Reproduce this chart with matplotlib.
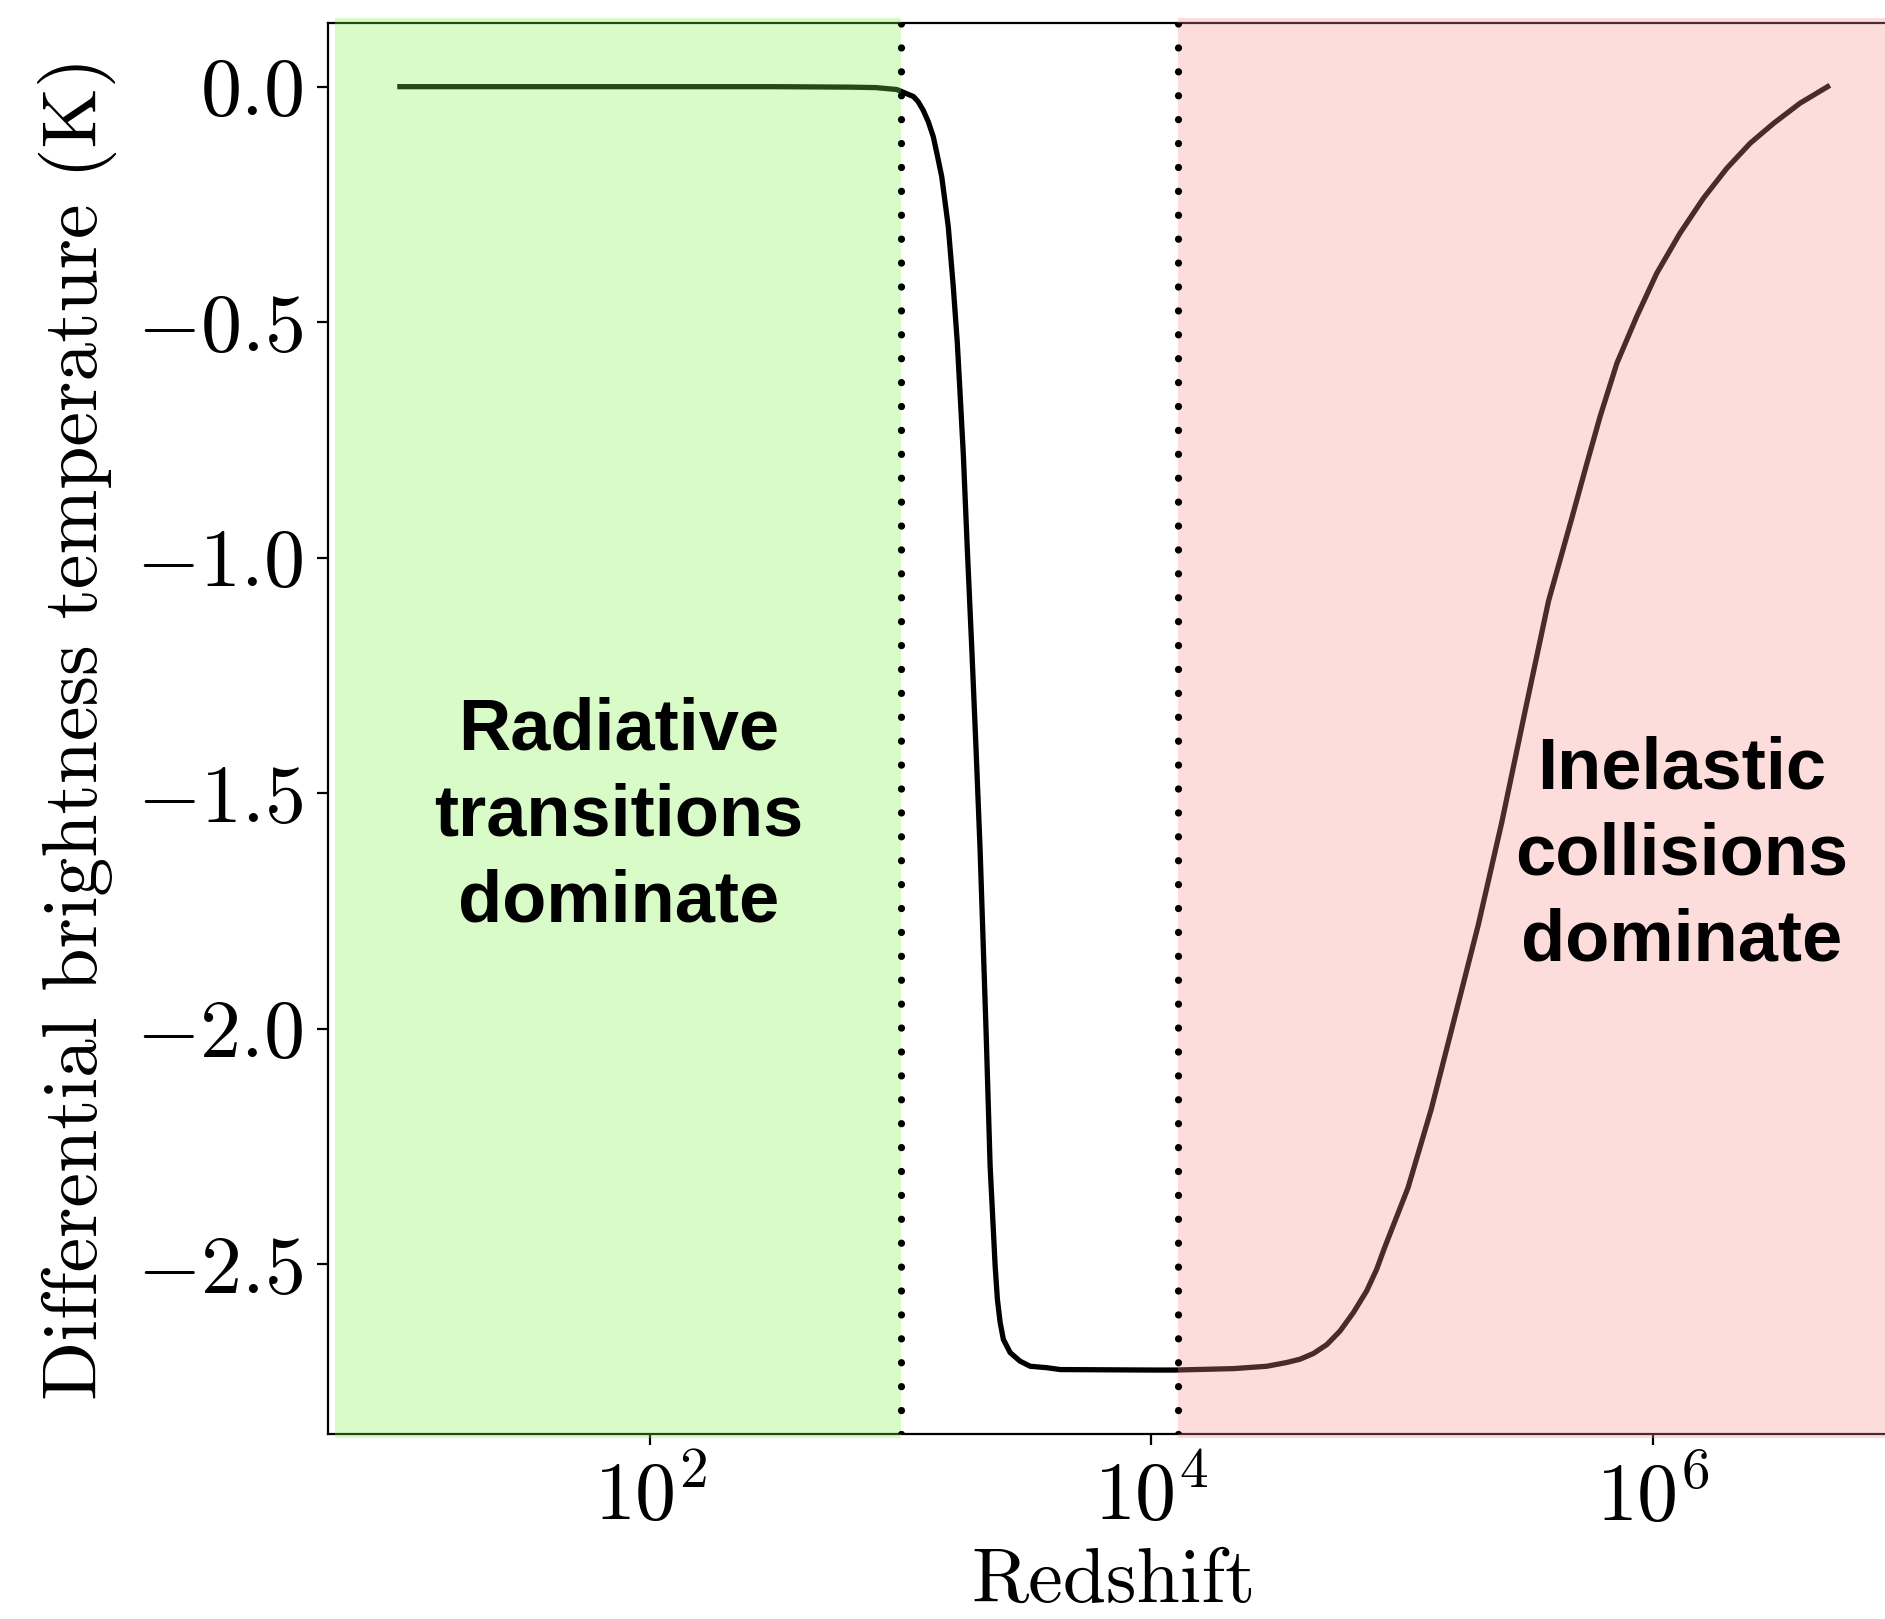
import matplotlib
matplotlib.use("Agg")
import matplotlib.pyplot as plt

# Differential 21-cm brightness temperature versus redshift
redshift = [10, 100, 316, 631, 794, 962, 1122, 1172, 1227, 1285, 1346, 1396,
            1455, 1545, 1618, 1679, 1722, 1774, 1841, 1919, 1995, 2070, 2188,
            2270, 2377, 2427, 2489, 2564, 2729, 2985, 3281, 3819, 4325,
            10000, 12500, 17780, 21230, 28840, 34670, 39170, 44260, 50120,
            56620, 63970, 72280, 79250, 85110, 105700, 130900, 162600,
            201800, 250000, 309700, 384600, 476400, 547000, 618000, 721100,
            865000, 1.040e6, 1.288e6, 1.596e6, 1.982e6, 2.455e6, 3.041e6,
            3.882e6, 5.0e6]
delta_tb = [0.0, 0.0, 0.0, -0.001, -0.002, -0.006, -0.021, -0.032, -0.050,
            -0.074, -0.106, -0.145, -0.191, -0.297, -0.425, -0.544, -0.651,
            -0.780, -0.983, -1.196, -1.408, -1.620, -2.009, -2.292, -2.504,
            -2.575, -2.624, -2.660, -2.688, -2.706, -2.717, -2.720, -2.724,
            -2.725, -2.725, -2.723, -2.722, -2.717, -2.709, -2.702, -2.690,
            -2.671, -2.642, -2.603, -2.557, -2.511, -2.466, -2.338, -2.171,
            -1.975, -1.779, -1.563, -1.327, -1.092, -0.916, -0.800, -0.700,
            -0.587, -0.488, -0.396, -0.311, -0.237, -0.173, -0.120, -0.078,
            -0.035, 0.0]

# Regime boundaries
z_radiative_end = 1.0e3
z_collisional_start = 1.28e4

x_ticks = [1e2, 1e4, 1e6]

plt.rcParams["mathtext.fontset"] = "cm"
plt.rcParams["axes.formatter.use_mathtext"] = True
plt.rcParams["font.family"] = ["cmr10", "DejaVu Sans"]

fig = plt.figure(figsize=(9.425, 8.095), dpi=200)
ax = fig.add_axes([0.17427, 0.11414, 0.83316, 0.87196])

ax.plot(redshift, delta_tb, color="black", lw=1.9, zorder=2)
ax.set_xscale("log")
xl = ax.get_xlim()
yl = ax.get_ylim()

ax.axvspan(xl[0] * 1.06, z_radiative_end, ymin=-0.003, ymax=1.003,
           color="#80f24b", alpha=0.3, lw=0, zorder=3, clip_on=False)
ax.axvspan(z_collisional_start, xl[1], ymin=-0.003, ymax=1.003,
           color="#f8918a", alpha=0.3, lw=0, zorder=3, clip_on=False)

for zb in (z_radiative_end, z_collisional_start):
    ax.axvline(zb, color="black", lw=2.6, linestyle=(0, (0.01, 3.3)),
               dash_capstyle="round", zorder=4)

ax.set_xlim(xl)
ax.set_ylim(yl)

ax.set_xticks(x_ticks)
ax.minorticks_off()
ax.tick_params(axis="both", labelsize=29.5, length=4, width=0.8, pad=5)

ax.set_xlabel("Redshift", fontsize=28, labelpad=4)
ax.set_ylabel("Differential brightness temperature (K)", fontsize=28,
              labelpad=7)

text_kw = dict(fontsize=26, fontweight="bold", ha="center", va="center",
               family=["Liberation Sans", "DejaVu Sans"], linespacing=1.34,
               zorder=5)
ax.text(75, -1.55, "Radiative\ntransitions\ndominate", **text_kw)
ax.text(1.31e6, -1.633, "Inelastic\ncollisions\ndominate", **text_kw)

fig.savefig("out.png", dpi=200)
